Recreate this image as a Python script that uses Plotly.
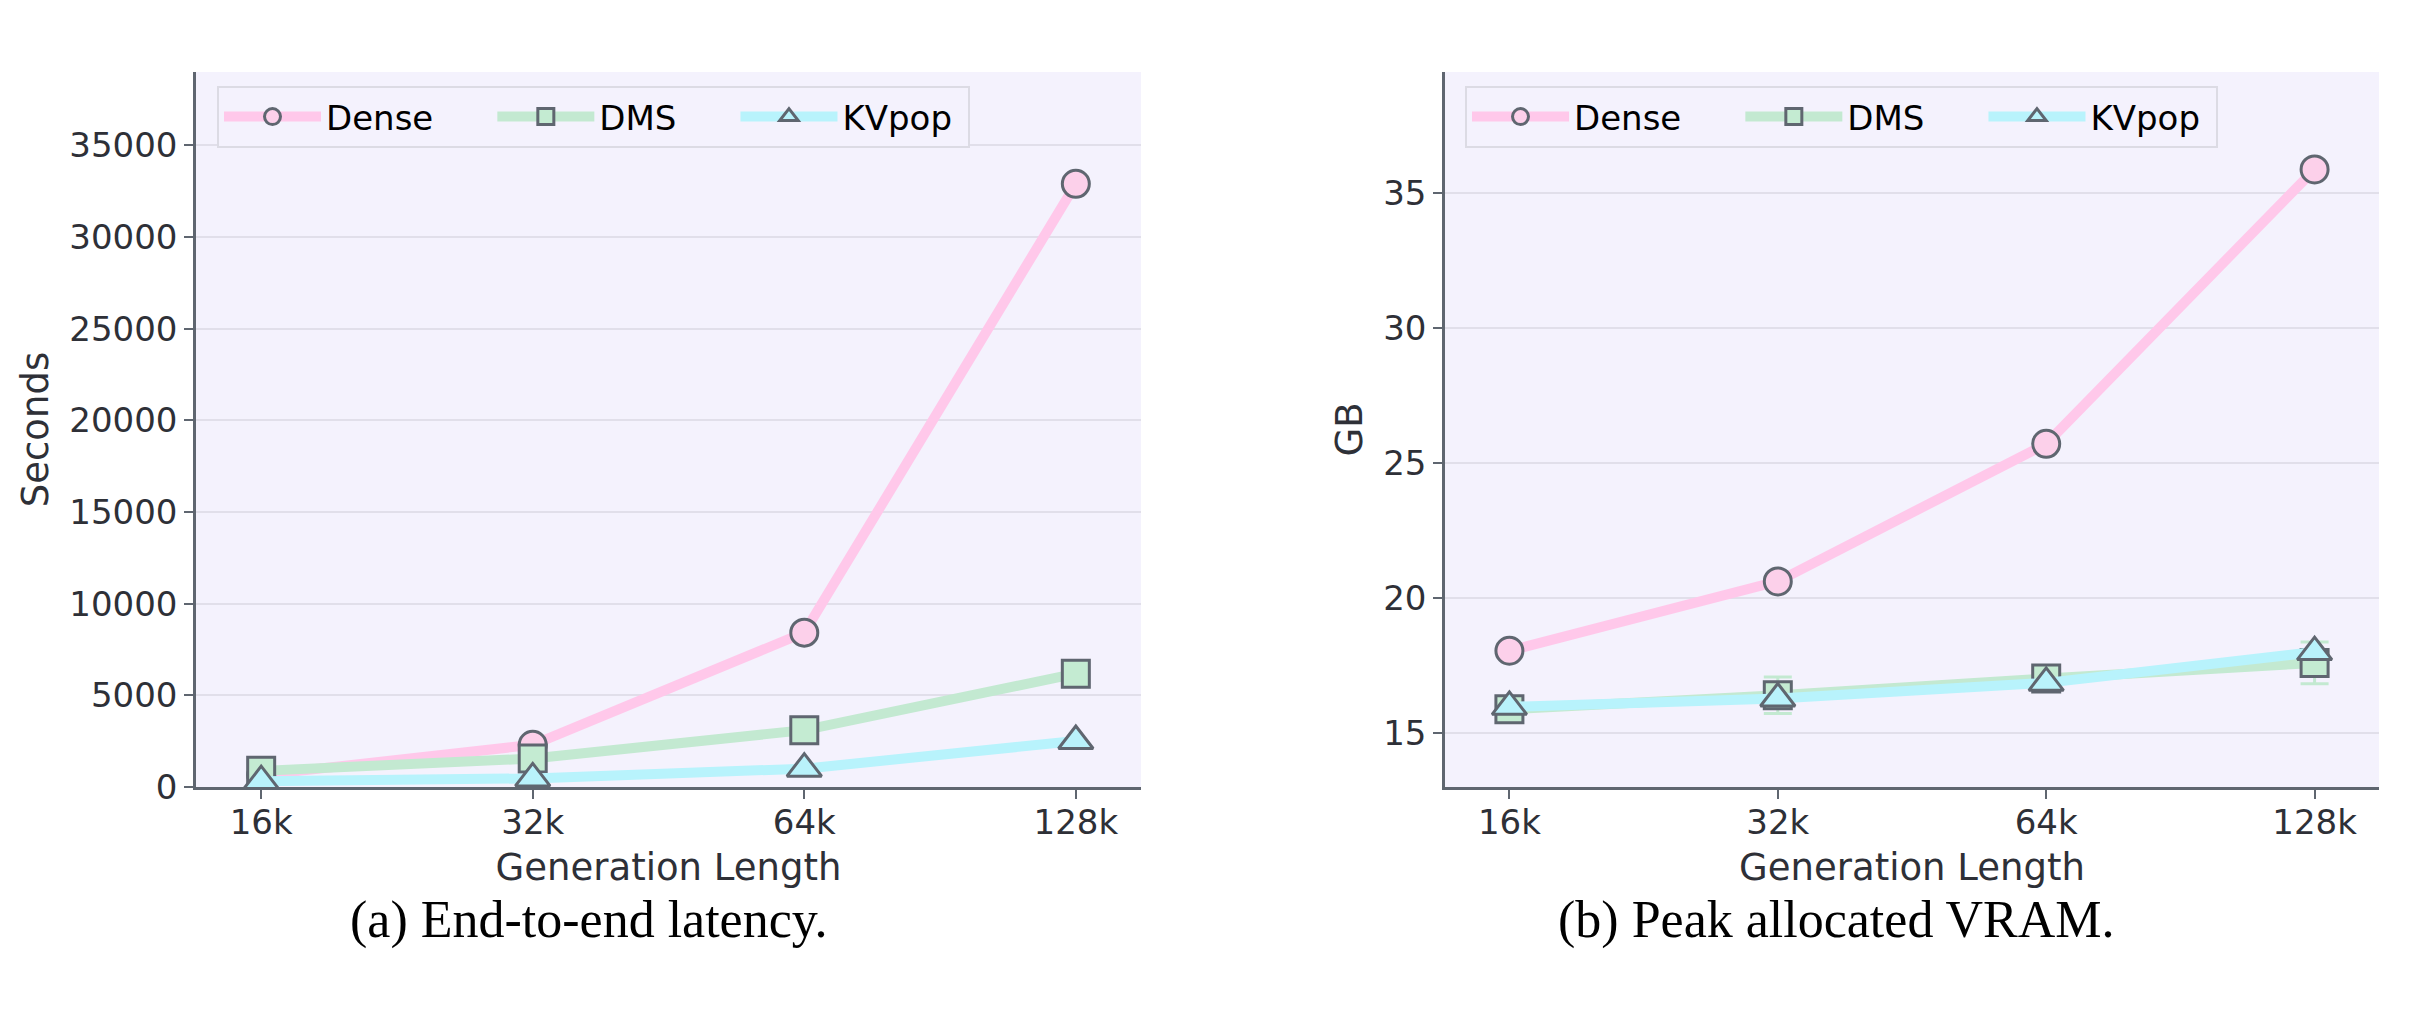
import plotly.graph_objects as go

# ---------------- data ----------------
gen_lengths = ["16k", "32k", "64k", "128k"]

latency_dense = [650, 2300, 8420, 32900]
latency_dms = [880, 1550, 3100, 6180]
latency_kvpop = [320, 470, 1000, 2510]

vram_dense = [18.05, 20.62, 25.72, 35.89]
vram_dms = [15.88, 16.40, 17.02, 17.60]
vram_dms_err = [0.05, 0.68, 0.05, 0.77]
vram_kvpop = [15.97, 16.28, 16.86, 18.00]

series_names = ["Dense", "DMS", "KVpop"]
y_ticks_latency = [0, 5000, 10000, 15000, 20000, 25000, 30000, 35000]
y_ticks_vram = [15, 20, 25, 30, 35]

# ---------------- style ----------------
W = 2425
H = 1010
line_colors = ["#ffc8ea", "#c3e9d1", "#b8f3fc"]
fill_colors = ["#fcd0ea", "#c4ebd2", "#b9f2fb"]
symbols = ["circle", "square", "triangle-up"]
edge = "#5f6670"
plot_bg = "#f4f2fd"
grid = "#e1dfea"
txt = "#2e3037"
NB = "\u00a0"
legend_names = ["Dense" + NB * 5, "DMS" + NB * 5, "KVpop" + NB]


def px_x(p):
    return p / W


def px_y(p):
    return 1 - p / H


fig = go.Figure()

panels = [
    ("x", "y", "legend", [latency_dense, latency_dms, latency_kvpop], [None, None, None]),
    ("x2", "y2", "legend2", [vram_dense, vram_dms, vram_kvpop], [None, vram_dms_err, None]),
]

for xa, ya, leg, ys, errs in panels:
    for i, name in enumerate(series_names):
        err = None
        if errs[i] is not None:
            err = dict(type="data", array=errs[i], visible=True,
                       color=line_colors[i], thickness=3, width=14)
        fig.add_trace(go.Scatter(
            x=gen_lengths, y=ys[i], name=legend_names[i],
            mode="lines+markers", xaxis=xa, yaxis=ya, legend=leg,
            line=dict(color=line_colors[i], width=10),
            marker=dict(symbol=symbols[i], size=27 if i < 2 else 30,
                        color=fill_colors[i],
                        line=dict(color=edge, width=3)),
            error_y=err,
            hoverinfo="x+y",
        ))

axis_common = dict(
    showline=True, linecolor=edge, linewidth=2.5,
    ticks="outside", ticklen=9, tickwidth=2, tickcolor=edge,
    tickfont=dict(family="DejaVu Sans", size=34, color=txt),
    title_font=dict(family="DejaVu Sans", size=37, color=txt),
    zeroline=False, automargin=False,
)

xdom1 = [px_x(196), px_x(1141)]
xdom2 = [px_x(1445), px_x(2379)]
ydom = [px_y(787), px_y(72)]

legend_common = dict(
    xanchor="left", yanchor="top", orientation="h", bgcolor=plot_bg,
    bordercolor="#dcdbe4", borderwidth=2, itemwidth=97,
    font=dict(family="DejaVu Sans", size=34, color="black"),
)

fig.update_layout(
    width=W, height=H,
    margin=dict(l=0, r=0, t=0, b=0, autoexpand=False),
    paper_bgcolor="white",
    plot_bgcolor=plot_bg,
    showlegend=True,
    xaxis=dict(domain=xdom1, anchor="y", type="category",
               range=[-0.24, 3.24], showgrid=False, ticklabelstandoff=-6,
               title=dict(text="Generation Length", standoff=14), **axis_common),
    yaxis=dict(domain=ydom, anchor="x", range=[0, 39000],
               tickvals=y_ticks_latency, tickformat="d",
               showgrid=True, gridcolor=grid, gridwidth=2,
               title=dict(text="Seconds", standoff=10), **axis_common),
    xaxis2=dict(domain=xdom2, anchor="y2", type="category",
                range=[-0.24, 3.24], showgrid=False, ticklabelstandoff=-6,
                title=dict(text="Generation Length", standoff=14), **axis_common),
    yaxis2=dict(domain=ydom, anchor="x2", range=[13, 39.5],
                tickvals=y_ticks_vram,
                showgrid=True, gridcolor=grid, gridwidth=2,
                title=dict(text="GB", standoff=10), **axis_common),
    legend=dict(x=px_x(217), y=px_y(86), **legend_common),
    legend2=dict(x=px_x(1465), y=px_y(86), **legend_common),
    annotations=[
        dict(text="(a) End-to-end latency.", x=px_x(588), y=px_y(920),
             xref="paper", yref="paper", showarrow=False,
             xanchor="center", yanchor="middle",
             font=dict(family="Liberation Serif", size=52, color="black")),
        dict(text="(b) Peak allocated VRAM.", x=px_x(1836), y=px_y(920),
             xref="paper", yref="paper", showarrow=False,
             xanchor="center", yanchor="middle",
             font=dict(family="Liberation Serif", size=52, color="black")),
    ],
)

fig.write_html("out.html")
